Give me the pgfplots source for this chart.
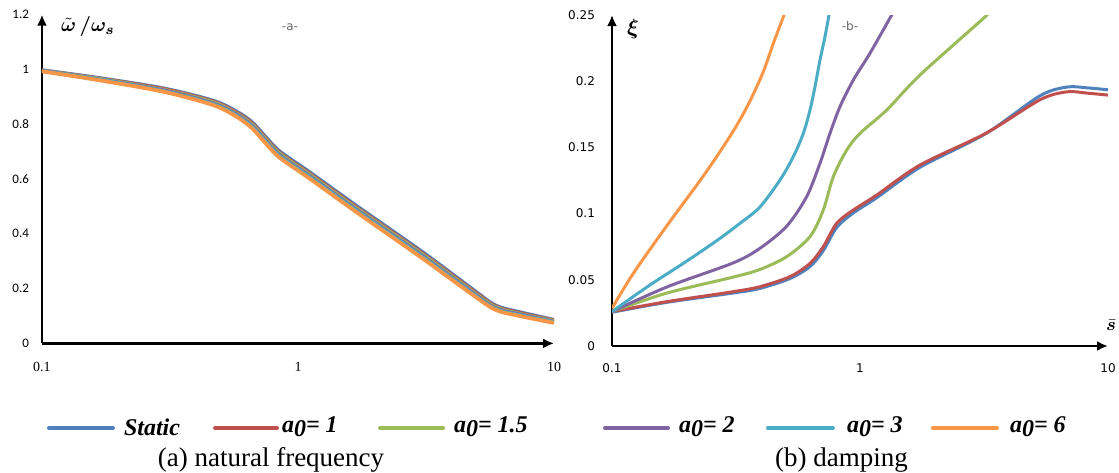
\documentclass[border=0pt]{standalone}
\usepackage{fontspec}
\setmainfont{Liberation Serif}
\newfontfamily\tickfont{Carlito}
\newfontfamily\tickfontb{DejaVu Sans}
\usepackage{bm}
\usepackage{pgfplots}
\usepackage{pgfplotstable}
\pgfplotsset{compat=1.18}
\usetikzlibrary{arrows.meta}
\definecolor{cS}{HTML}{4F81BD}
\definecolor{cA}{HTML}{C0504D}
\definecolor{cB}{HTML}{9BBB59}
\definecolor{cC}{HTML}{8064A2}
\definecolor{cD}{HTML}{4BACC6}
\definecolor{cE}{HTML}{F79646}
\pgfplotstableread{
s      S     A     B     C     D     E
0.1    0.997 0.996 0.995 0.995 0.994 0.993
0.1634 0.970 0.968 0.967 0.965 0.964 0.962
0.297  0.931 0.929 0.926 0.924 0.921 0.919
0.4655 0.886 0.883 0.880 0.876 0.873 0.870
0.574  0.847 0.843 0.839 0.836 0.832 0.828
0.660  0.808 0.804 0.800 0.795 0.791 0.786
0.740  0.758 0.753 0.749 0.744 0.740 0.735
0.830  0.708 0.703 0.699 0.694 0.690 0.685
0.950  0.668 0.663 0.659 0.654 0.650 0.645
1.109  0.625 0.620 0.616 0.611 0.607 0.602
1.686  0.503 0.498 0.494 0.489 0.485 0.480
3.067  0.333 0.328 0.324 0.319 0.315 0.310
4.80   0.198 0.194 0.190 0.186 0.182 0.178
5.93   0.138 0.135 0.132 0.128 0.125 0.122
7.52   0.112 0.109 0.106 0.104 0.101 0.098
10     0.086 0.084 0.082 0.079 0.077 0.075
}\freqtab
\pgfplotstableread{
s      y
0.1    0.0255
0.1666 0.033
0.3075 0.040
0.3951 0.0435
0.5221 0.051
0.6286 0.060
0.7112 0.072
0.8054 0.0895
0.9398 0.1005
1.168  0.112
1.746  0.135
3.22   0.1605
5.32   0.189
6.84   0.1956
8.23   0.195
10     0.1935
}\dS
\pgfplotstableread{
s      y
0.1    0.026
0.1666 0.0335
0.3075 0.041
0.3951 0.0448
0.5221 0.0524
0.6286 0.0624
0.7112 0.075
0.8054 0.0927
0.9398 0.1027
1.168  0.114
1.746  0.1367
3.22   0.1607
5.32   0.186
6.84   0.192
8.23   0.191
10     0.1895
}\dA
\pgfplotstableread{
s      y
0.1    0.026
0.1666 0.040
0.3075 0.052
0.3951 0.0578
0.5063 0.0675
0.6286 0.0826
0.7112 0.1027
0.7806 0.1279
0.884  0.148
1.0    0.1606
1.281  0.1782
1.746  0.2047
3.19   0.2485
3.30   0.252
}\dB
\pgfplotstableread{
s      y
0.1    0.026
0.1666 0.0446
0.3075 0.0627
0.3951 0.0738
0.5063 0.0905
0.6095 0.1128
0.6897 0.138
0.7568 0.1606
0.8305 0.1808
0.9398 0.2009
1.097  0.2211
1.342  0.250
1.37   0.253
}\dC
\pgfplotstableread{
s      y
0.1    0.026
0.1423 0.0461
0.1939 0.0624
0.2642 0.0795
0.330  0.093
0.3951 0.105
0.4759 0.1254
0.5384 0.143
0.5909 0.1606
0.6286 0.1782
0.6585 0.1959
0.6897 0.216
0.7225 0.2336
0.7499 0.250
0.755  0.253
}\dD
\pgfplotstableread{
s      y
0.1    0.0285
0.1219 0.0549
0.1661 0.0906
0.2264 0.1249
0.2726 0.1468
0.3181 0.1665
0.3601 0.1850
0.4076 0.2072
0.4473 0.2286
0.491  0.2487
0.497  0.252
}\dE
\newcommand{\az}[1]{\textbf{\textit{a\raisebox{-0.35ex}{0}= #1}}}
\begin{document}
\begin{tikzpicture}[x=1pt,y=1pt]
\path[use as bounding box] (0,0) rectangle (559.5,236);
% ---------- left panel
\begin{axis}[
  at={(21pt,64.3pt)}, anchor=south west,
  scale only axis, width=256pt, height=164.4pt,
  xmode=log, xmin=0.1, xmax=10, ymin=0, ymax=1.2,
  axis lines=left,
  axis line style={line width=1.2pt, -{Latex[length=5.5pt,width=5pt]}},
  major tick length=0pt, minor tick length=0pt,
  xtick={0.1,1,10}, xticklabels={0.1,1,10},
  ytick={0,0.2,0.4,0.6,0.8,1,1.2},
  yticklabels={0,0.2,0.4,0.6,0.8,1,1.2},
  yticklabel style={font=\tickfont\fontsize{6.5}{7}\selectfont, xshift=-3pt},
  xticklabel style={font=\fontsize{7}{8}\selectfont, yshift=-6pt},
  every axis plot/.append style={line width=1.9pt, smooth, tension=0.5},
]
\addplot[cS] table[x=s,y=S] {\freqtab};
\addplot[cA] table[x=s,y=A] {\freqtab};
\addplot[cB] table[x=s,y=B] {\freqtab};
\addplot[cC] table[x=s,y=C] {\freqtab};
\addplot[cD] table[x=s,y=D] {\freqtab};
\addplot[cE] table[x=s,y=E] {\freqtab};
\end{axis}
% ---------- right panel
\begin{axis}[
  at={(306pt,63pt)}, anchor=south west,
  scale only axis, width=248pt, height=165.5pt,
  xmode=log, xmin=0.1, xmax=10, ymin=0, ymax=0.25,
  axis lines=left,
  axis line style={line width=1.2pt, -{Latex[length=5.5pt,width=5pt]}},
  major tick length=0pt, minor tick length=0pt,
  xtick={0.1,1,10}, xticklabels={0.1,1,10},
  ytick={0,0.05,0.1,0.15,0.2,0.25},
  yticklabels={0,0.05,0.1,0.15,0.2,0.25},
  yticklabel style={font=\tickfontb\fontsize{6}{7}\selectfont, xshift=-5pt},
  xticklabel style={font=\tickfontb\fontsize{6}{7}\selectfont, yshift=-5.5pt},
  every axis plot/.append style={line width=1.5pt, smooth, tension=0.5},
]
\addplot[cS] table {\dS};
\addplot[cA] table {\dA};
\addplot[cB] table {\dB};
\addplot[cC] table {\dC};
\addplot[cD] table {\dD};
\addplot[cE] table {\dE};
\end{axis}
% ---------- axis labels
\node[inner sep=0] at (44,222.5) {\fontsize{10}{11}\selectfont $\bm{\tilde{\omega}\,/\omega_{s}}$};
\node[inner sep=0, text=black!60] at (145,222.5) {\tickfontb\fontsize{6}{7}\selectfont -a-};
\node[inner sep=0] at (316.5,221.5) {\fontsize{10.5}{11}\selectfont $\bm{\xi}$};
\node[inner sep=0, text=black!60] at (425,223) {\tickfontb\fontsize{6}{7}\selectfont -b-};
\node[inner sep=0] at (555.5,73.5) {\fontsize{9.5}{10}\selectfont $\bm{\bar{s}}$};
% ---------- legend
\begin{scope}[line width=2pt, line cap=round]
\draw[cS] (24.5,22) -- (56.5,22);
\node[anchor=west, inner sep=0] at (61,22.5) {\fontsize{12}{13}\selectfont\textbf{\textit{Static}}};
\draw[cA] (107.5,22) -- (138.5,22);
\node[anchor=west, inner sep=0] at (140,22.5) {\fontsize{12}{13}\selectfont\az{1}};
\draw[cB] (190,22) -- (221.5,22);
\node[anchor=west, inner sep=0] at (226,22.5) {\fontsize{12}{13}\selectfont\az{1.5}};
\draw[cC] (302.5,22) -- (334,22);
\node[anchor=west, inner sep=0] at (338.5,22.5) {\fontsize{12}{13}\selectfont\az{2}};
\draw[cD] (384,22) -- (416.5,22);
\node[anchor=west, inner sep=0] at (422.5,22.5) {\fontsize{12}{13}\selectfont\az{3}};
\draw[cE] (466.5,22) -- (498.5,22);
\node[anchor=west, inner sep=0] at (504,22.5) {\fontsize{12}{13}\selectfont\az{6}};
\end{scope}
% ---------- captions
\node[inner sep=0] at (135.5,6) {\fontsize{13.5}{15}\selectfont (a) natural frequency};
\node[inner sep=0] at (420.75,6) {\fontsize{13.5}{15}\selectfont (b) damping};
\end{tikzpicture}
\end{document}
